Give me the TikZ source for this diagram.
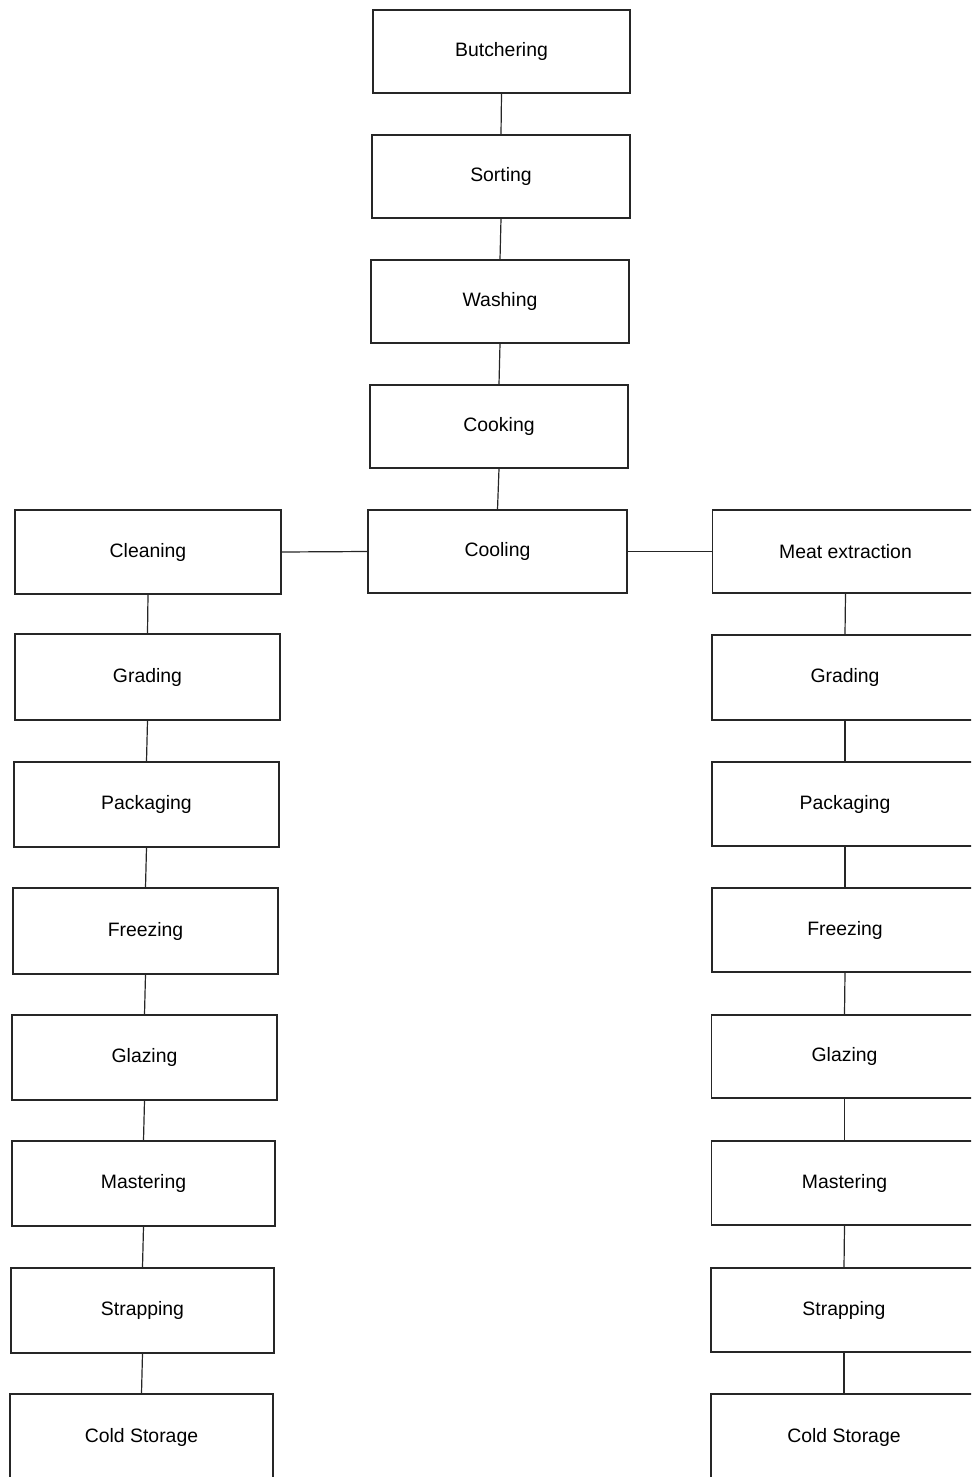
\documentclass[tikz,border=0pt]{standalone}
\usepackage{fontspec}
\setmainfont{Liberation Sans}
\begin{document}
\begin{tikzpicture}[x=0.5pt,y=-0.5pt,
  box/.style={draw=black!85,line width=0.6pt,fill=white,inner sep=0pt,font=\fontsize{9.7}{11}\selectfont},
  link/.style={draw=black!85,line width=0.6pt}]
\useasboundingbox (0,0) rectangle (971,1477);
\clip (0,0) rectangle (971,1477);
\newcommand{\bx}[6]{\node[box,minimum width=#4*0.5pt,minimum height=#5*0.5pt] (#1) at (#2,#3) {#6};}
\newcommand{\rbx}[5]{\node[box,minimum width=300*0.5pt,minimum height=#4*0.5pt] (#1) at (#2+17,#3) {\hspace*{-17pt}#5};}
% center column
\bx{butch}{501.5}{51.5}{257}{83}{Butchering}
\bx{sort}{501}{176.5}{258}{83}{Sorting}
\bx{wash}{500}{301.5}{258}{83}{Washing}
\bx{cook}{499}{426.5}{258}{83}{Cooking}
\bx{cool}{497.5}{551.5}{259}{83}{Cooling}
% left column
\bx{lclean}{148}{552}{266}{84}{Cleaning}
\bx{lgrad}{147.5}{677}{265}{86}{Grading}
\bx{lpack}{146.5}{804.5}{265}{85}{Packaging}
\bx{lfree}{145.5}{931}{265}{86}{Freezing}
\bx{lglaz}{144.5}{1057.5}{265}{85}{Glazing}
\bx{lmast}{143.5}{1183.5}{263}{85}{Mastering}
\bx{lstrap}{142.5}{1310.5}{263}{85}{Strapping}
\bx{lcold}{141.5}{1437}{263}{86}{Cold Storage}
% right column (cut by the right edge)
\rbx{rmeat}{845.5}{551.5}{83}{Meat extraction}
\rbx{rgrad}{845}{677.5}{85}{Grading}
\rbx{rpack}{845}{804}{84}{Packaging}
\rbx{rfree}{845}{930}{84}{Freezing}
\rbx{rglaz}{844.5}{1056.5}{83}{Glazing}
\rbx{rmast}{844.5}{1183}{84}{Mastering}
\rbx{rstrap}{844}{1310}{84}{Strapping}
\rbx{rcold}{844}{1437}{86}{Cold Storage}
% connectors
\draw[link] (butch.south) -- (sort.north);
\draw[link] (sort.south) -- (wash.north);
\draw[link] (wash.south) -- (cook.north);
\draw[link] (cook.south) -- (cool.north);
\draw[link] (lclean.east) -- (cool.west);
\draw[link] (cool.east) -- (rmeat.west);
\draw[link] (lclean.south) -- (lgrad.north);
\draw[link] (lgrad.south) -- (lpack.north);
\draw[link] (lpack.south) -- (lfree.north);
\draw[link] (lfree.south) -- (lglaz.north);
\draw[link] (lglaz.south) -- (lmast.north);
\draw[link] (lmast.south) -- (lstrap.north);
\draw[link] (lstrap.south) -- (lcold.north);
\draw[link] ([xshift=-8.5pt]rmeat.south) -- ([xshift=-8.5pt]rgrad.north);
\draw[link] ([xshift=-8.5pt]rgrad.south) -- ([xshift=-8.5pt]rpack.north);
\draw[link] ([xshift=-8.5pt]rpack.south) -- ([xshift=-8.5pt]rfree.north);
\draw[link] ([xshift=-8.5pt]rfree.south) -- ([xshift=-8.5pt]rglaz.north);
\draw[link] ([xshift=-8.5pt]rglaz.south) -- ([xshift=-8.5pt]rmast.north);
\draw[link] ([xshift=-8.5pt]rmast.south) -- ([xshift=-8.5pt]rstrap.north);
\draw[link] ([xshift=-8.5pt]rstrap.south) -- ([xshift=-8.5pt]rcold.north);
\end{tikzpicture}
\end{document}
